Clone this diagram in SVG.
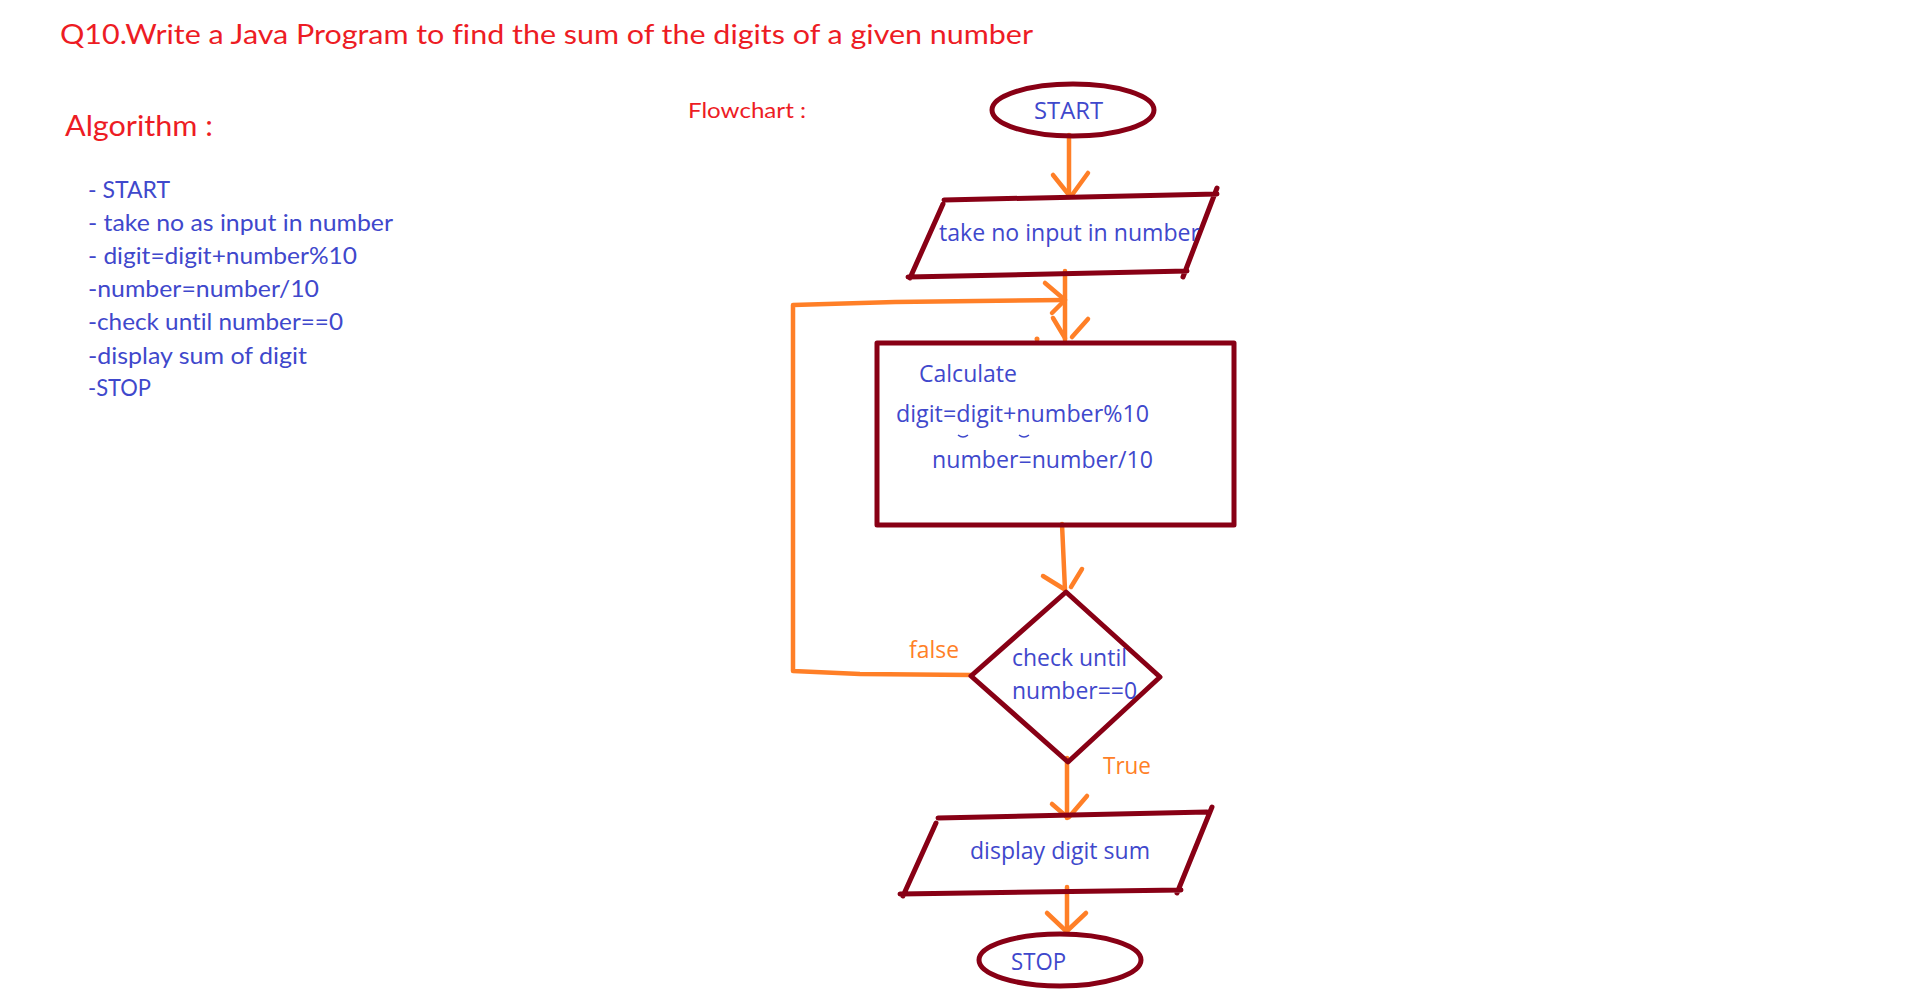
<svg xmlns="http://www.w3.org/2000/svg" width="1911" height="994" viewBox="0 0 1911 994">
<style>
text{font-variant-ligatures:none;font-feature-settings:"liga" 0,"clig" 0}
.red{fill:#ED1C24;font-family:Lato,"Liberation Sans",sans-serif}
.alg{fill:#3F48CC;font-family:Lato,"Liberation Sans",sans-serif;font-size:23px}
.ft{fill:#3F48CC;font-family:"Open Sans","Noto Sans",sans-serif;font-size:24px}
.lbl{fill:#FF7F27;font-family:"Open Sans","Noto Sans",sans-serif;font-size:24px}
.shape{fill:none;stroke:#880015;stroke-width:5;stroke-linecap:round;stroke-linejoin:round}
.con{fill:none;stroke:#FF7F27;stroke-width:4.5;stroke-linecap:round;stroke-linejoin:round}
</style>
<rect width="1911" height="994" fill="#ffffff"/>
<text class="red" x="60" y="44" font-size="27" textLength="973" lengthAdjust="spacingAndGlyphs">Q10.Write a Java Program to find the sum of the digits of a given number</text>
<text class="red" x="65" y="136" font-size="29" textLength="148" lengthAdjust="spacingAndGlyphs">Algorithm :</text>
<text class="red" x="688" y="118" font-size="22" textLength="118" lengthAdjust="spacingAndGlyphs">Flowchart :</text>
<g id="algorithm">
<text class="alg" x="88" y="198" textLength="82" lengthAdjust="spacingAndGlyphs">- START</text>
<text class="alg" x="88" y="231" textLength="305" lengthAdjust="spacingAndGlyphs">- take no as input in number</text>
<text class="alg" x="88" y="264" textLength="269" lengthAdjust="spacingAndGlyphs">- digit=digit+number%10</text>
<text class="alg" x="88" y="297" textLength="231" lengthAdjust="spacingAndGlyphs">-number=number/10</text>
<text class="alg" x="88" y="330" textLength="255" lengthAdjust="spacingAndGlyphs">-check until number==0</text>
<text class="alg" x="88" y="364" textLength="219" lengthAdjust="spacingAndGlyphs">-display sum of digit</text>
<text class="alg" x="88" y="396" textLength="63" lengthAdjust="spacingAndGlyphs">-STOP</text>
</g>
<g id="connectors">
<path class="con" d="M1069 135 L1069 197"/>
<path class="con" d="M1053 175 L1069 195 M1088 173 L1072 195"/>
<path class="con" d="M1065 271 L1065 340"/>
<path class="con" d="M1053 318 L1065 338 M1088 319 L1072 337"/>
<path class="con" d="M971 675 L860 674 L793 671 L793 305 L895 302 L1065 300"/>
<path class="con" d="M1045 283 L1065 300 M1052 313 L1063 302"/>
<circle cx="1037" cy="339" r="2.5" fill="#FF7F27"/>
<path class="con" d="M1062 524 L1065 590"/>
<path class="con" d="M1043 576 L1064 589 M1082 569 L1071 587"/>
<path class="con" d="M1067 758 L1067 818"/>
<path class="con" d="M1052 804 L1067 817 M1087 796 L1069 817"/>
<path class="con" d="M1067 887 L1067 932"/>
<path class="con" d="M1047 913 L1066 931 M1086 913 L1067 931"/>
<text class="lbl" x="909" y="658" textLength="50" lengthAdjust="spacingAndGlyphs">false</text>
<text class="lbl" x="1103" y="774" textLength="48" lengthAdjust="spacingAndGlyphs">True</text>
</g>
<g id="start">
<ellipse class="shape" cx="1073" cy="110" rx="81" ry="26"/>
<text class="ft" x="1034" y="119" textLength="69" lengthAdjust="spacingAndGlyphs">START</text>
</g>
<g id="input">
<path class="shape" d="M944 200 L1217 194 M1217 188 L1183 277 M908 277 L1187 271 M943 204 L910 278"/>
<text class="ft" x="939" y="241" textLength="261" lengthAdjust="spacingAndGlyphs">take no input in number</text>
</g>
<g id="calculate">
<rect class="shape" x="877" y="343" width="357" height="182" stroke-linejoin="miter"/>
<text class="ft" x="919" y="382" textLength="98" lengthAdjust="spacingAndGlyphs">Calculate</text>
<text class="ft" x="896" y="422" textLength="253" lengthAdjust="spacingAndGlyphs">digit=digit+number%10</text>
<path d="M958 435 q5 4 10 0 M1019 435 q5 4 10 0" fill="none" stroke="#3F48CC" stroke-width="1.5"/>
<text class="ft" x="932" y="468" textLength="221" lengthAdjust="spacingAndGlyphs">number=number/10</text>
</g>
<g id="decision">
<path class="shape" d="M1066 592 L1160 677 L1068 762 L971 676 Z"/>
<text class="ft" x="1012" y="666" textLength="115" lengthAdjust="spacingAndGlyphs">check until</text>
<text class="ft" x="1012" y="699" textLength="125" lengthAdjust="spacingAndGlyphs">number==0</text>
</g>
<g id="display">
<path class="shape" d="M938 818 L1207 812 M1212 807 L1177 893 M900 894 L1181 890 M936 823 L903 896"/>
<text class="ft" x="970" y="859" textLength="180" lengthAdjust="spacingAndGlyphs">display digit sum</text>
</g>
<g id="stop">
<ellipse class="shape" cx="1060" cy="960" rx="81" ry="26"/>
<text class="ft" x="1011" y="970" textLength="55" lengthAdjust="spacingAndGlyphs">STOP</text>
</g>
</svg>
